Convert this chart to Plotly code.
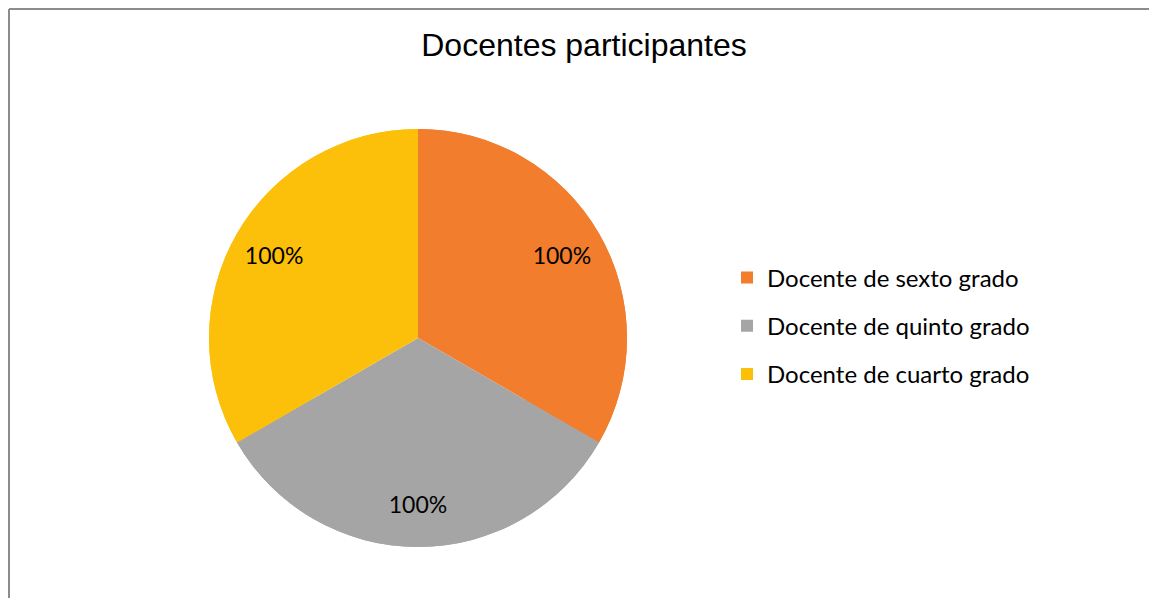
import plotly.graph_objects as go

categories = ["Docente de sexto grado", "Docente de quinto grado", "Docente de cuarto grado"]
values = [1, 1, 1]
pct_labels = ["100%", "100%", "100%"]
colors = ["#F17D2D", "#A5A5A5", "#FDC00A"]
title_text = "Docentes participantes"

# page body adds an 8px margin; figure is sized/positioned to compensate
OFF = 8
W, H = 1157 - OFF, 606 - 2 * OFF


def py(y_page):
    """paper y for a page pixel row"""
    return 1 - (y_page - OFF) / H


def px(x_page):
    return (x_page - OFF) / W


pie_domain = dict(x=[px(209), px(627)], y=[py(547), py(129)])

fig = go.Figure()
# full pie (fill)
fig.add_trace(go.Pie(
    labels=categories, values=values,
    textinfo="none",
    marker=dict(colors=colors, line=dict(width=0)),
    sort=False, direction="clockwise", rotation=0,
    showlegend=False, hoverinfo="label+percent",
    domain=pie_domain,
))
# ring on top of it, carrying the percentage labels in the outer part of each slice
fig.add_trace(go.Pie(
    labels=categories, values=values,
    text=pct_labels, textinfo="text",
    textposition="inside", insidetextorientation="horizontal",
    textfont=dict(family="Lato", size=23, color="#000000"),
    marker=dict(colors=colors, line=dict(width=0)),
    hole=0.59,
    sort=False, direction="clockwise", rotation=0,
    showlegend=False, hoverinfo="skip",
    domain=pie_domain,
))

# legend entries (one per category, same colours as slices)
for i, (cat, col) in enumerate(zip(categories, colors)):
    fig.add_trace(go.Scatter(
        x=[None], y=[None], mode="markers", name=cat,
        marker=dict(symbol="square", size=12, color=col),
        legendgroup=f"g{i}", showlegend=True,
    ))

border = dict(color="#8C8C8C", width=2)
fig.update_layout(
    width=W, height=H,
    margin=dict(l=0, r=0, t=0, b=0),
    paper_bgcolor="white", plot_bgcolor="white",
    title=dict(text=title_text, x=px(584), xanchor="center",
               y=py(45), yanchor="middle",
               font=dict(family="Liberation Sans", size=32, color="#000000")),
    xaxis=dict(visible=False), yaxis=dict(visible=False),
    legend=dict(x=px(727), xanchor="left", y=py(326), yanchor="middle",
                font=dict(family="Lato", size=24, color="#000000"),
                tracegroupgap=14, bgcolor="rgba(0,0,0,0)"),
    shapes=[
        dict(type="line", xref="paper", yref="paper",
             x0=1 / W, x1=1.0, y0=1 - 1 / H, y1=1 - 1 / H, line=border, layer="below"),
        dict(type="line", xref="paper", yref="paper",
             x0=1 / W, x1=1 / W, y0=0.0, y1=1 - 1 / H, line=border, layer="below"),
    ],
)

fig.write_html("out.html")
